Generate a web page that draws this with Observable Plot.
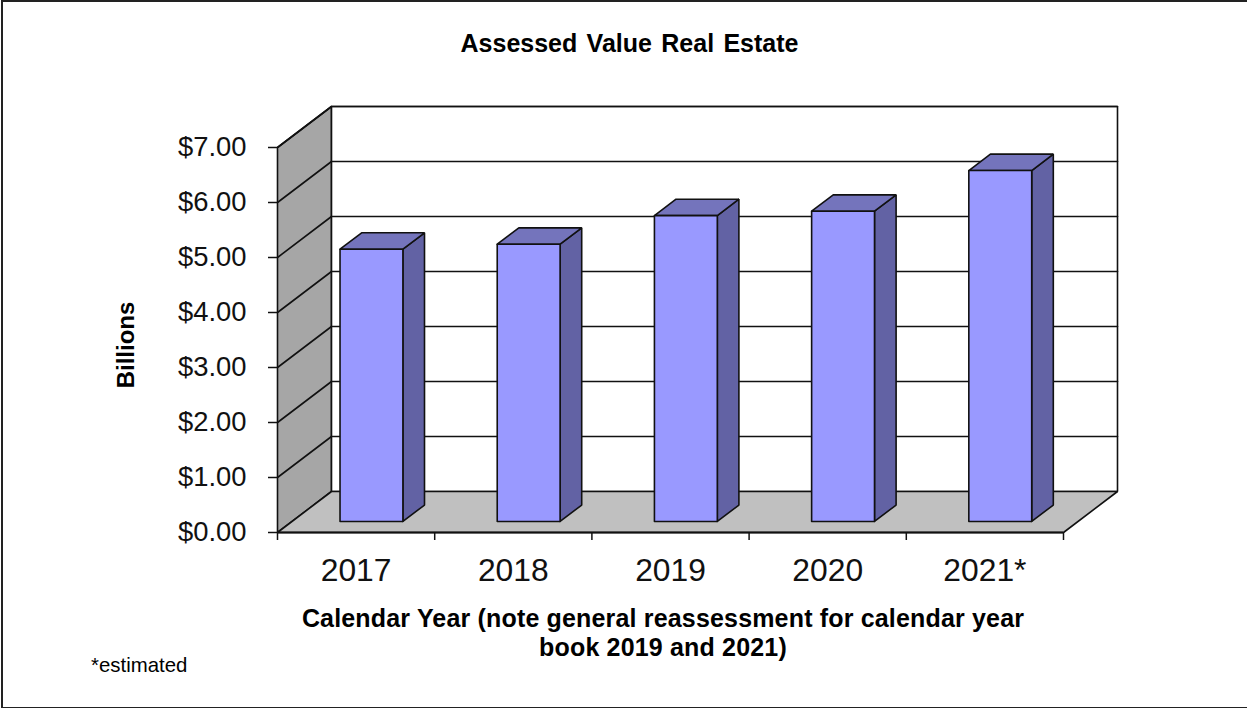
<!DOCTYPE html>
<html>
<head>
<meta charset="utf-8">
<script src="https://cdn.jsdelivr.net/npm/d3@7"></script>
<script src="https://cdn.jsdelivr.net/npm/@observablehq/plot@0.6"></script>
<style>
  html, body { margin: 0; padding: 0; background: #fff; }
  #page { position: relative; width: 1247px; height: 708px; overflow: hidden; font-family: "Liberation Sans", Arial, sans-serif; color: #000; }
  #page svg { position: absolute; left: 0; top: 0; }
  #edge { position: absolute; left: 1px; top: 0; width: 1250px; height: 705px; border: 2px solid #222; box-sizing: content-box; }
  .note { position: absolute; white-space: nowrap; }
</style>
</head>
<body>
<div id="page">
  <div id="edge"></div>
  <div id="chart"></div>
  <div class="note" style="left:0;width:1259px;top:30px;text-align:center;font-weight:bold;font-size:25px;word-spacing:2.4px;line-height:27px">Assessed Value Real Estate</div>
  <div class="note" style="left:0;width:1326px;top:604px;text-align:center;font-weight:bold;font-size:25px;letter-spacing:0.17px;line-height:29px">Calendar Year (note general reassessment for calendar year<br>book 2019 and 2021)</div>
  <div class="note" style="left:91px;top:654px;font-size:20.4px;line-height:22px">*estimated</div>
</div>
<script>
// Assessed real estate value, in billions of dollars, by calendar year book
const years = ["2017", "2018", "2019", "2020", "2021*"];
const values = [4.95, 5.04, 5.56, 5.64, 6.38];
const yTicks = [0, 1, 2, 3, 4, 5, 6, 7];

// Oblique 3D: a point at depth z (0 front, 1 back) shifts right and up in data units
const shiftX = 54 / 157.2;
const shiftY = 41 / 55;
const project = (x, y, z) => ({x: x + z * shiftX, y: y + z * shiftY});
const quad = (id, corners) => [...corners, corners[0]].map(([x, y, z]) => ({id, ...project(x, y, z)}));
const segment = (id, a, b) => [a, b].map(([x, y, z]) => ({id, ...project(x, y, z)}));

const count = years.length;
const yMax = 7;

// Walls and floor of the chart box
const sideWall = quad("side", [[0, 0, 0], [0, 0, 1], [0, yMax, 1], [0, yMax, 0]]);
const backWall = quad("back", [[0, 0, 1], [count, 0, 1], [count, yMax, 1], [0, yMax, 1]]);
const floor = quad("floor", [[0, 0, 0], [count, 0, 0], [count, 0, 1], [0, 0, 1]]);

// Gridlines run along the side wall and across the back wall
const gridLines = yTicks.filter((v) => v > 0).flatMap((v) => [
  ...segment(`s${v}`, [0, v, 0], [0, v, 1]),
  ...segment(`b${v}`, [0, v, 1], [count, v, 1])
]);

// Each bar is three visible faces of a box
const barWidth = 0.4, zNear = 0.27, zFar = 0.67;
const barLeft = (i) => i + (1 - barWidth) / 2 + 0.005;
const barFront = values.flatMap((v, i) => {
  const l = barLeft(i), r = l + barWidth;
  return quad(`f${i}`, [[l, 0, zNear], [r, 0, zNear], [r, v, zNear], [l, v, zNear]]);
});
const barTop = values.flatMap((v, i) => {
  const l = barLeft(i), r = l + barWidth;
  return quad(`t${i}`, [[l, v, zNear], [r, v, zNear], [r, v, zFar], [l, v, zFar]]);
});
const barSide = values.flatMap((v, i) => {
  const r = barLeft(i) + barWidth;
  return quad(`r${i}`, [[r, 0, zNear], [r, 0, zFar], [r, v, zFar], [r, v, zNear]]);
});

const face = (data, fill, stroke = "#111", strokeWidth = 1.6) =>
  Plot.line(data, {x: "x", y: "y", z: "id", fill, stroke, strokeWidth, strokeLinejoin: "miter", curve: "linear"});

const chart = Plot.plot({
  width: 1247,
  height: 708,
  marginLeft: 277,
  marginRight: 184,
  marginTop: 147,
  marginBottom: 176,
  style: {background: "transparent", fontFamily: "'Liberation Sans', Arial, sans-serif", overflow: "visible"},
  x: {domain: [0, count]},
  y: {domain: [0, yMax]},
  marks: [
    face(sideWall, "#a6a6a6"),
    face(backWall, "#ffffff"),
    face(floor, "#c0c0c0"),
    Plot.line(gridLines, {x: "x", y: "y", z: "id", stroke: "#111", strokeWidth: 1.6}),
    face(barSide, "#6262a4"),
    face(barTop, "#7474bc"),
    face(barFront, "#9999ff"),
    Plot.ruleY([0], {stroke: "#111", strokeWidth: 1.8}),
    Plot.axisY({
      anchor: "left",
      ticks: yTicks,
      tickSize: 9,
      tickPadding: 22,
      tickFormat: (v) => `$${v.toFixed(2)}`,
      fontSize: 27.4,
      fill: "#111",
      stroke: "#111",
      strokeWidth: 1.5,
      label: null
    }),
    Plot.axisX({
      anchor: "bottom",
      ticks: d3.range(count + 1),
      tickSize: 8,
      tickFormat: () => "",
      stroke: "#111",
      strokeWidth: 1.5,
      label: null
    }),
    Plot.axisX({
      anchor: "bottom",
      ticks: years.map((_, i) => i + 0.5),
      tickSize: 0,
      tickPadding: 26,
      tickFormat: (v) => years[Math.floor(v)],
      fontSize: 31.8,
      fill: "#111",
      label: null
    }),
    Plot.text(["Billions"], {
      frameAnchor: "left",
      rotate: -90,
      textAnchor: "middle",
      dx: -151,
      dy: 5,
      fontSize: 24,
      fontWeight: "bold",
      fill: "#000"
    })
  ]
});
document.getElementById("chart").appendChild(chart);
</script>
</body>
</html>
